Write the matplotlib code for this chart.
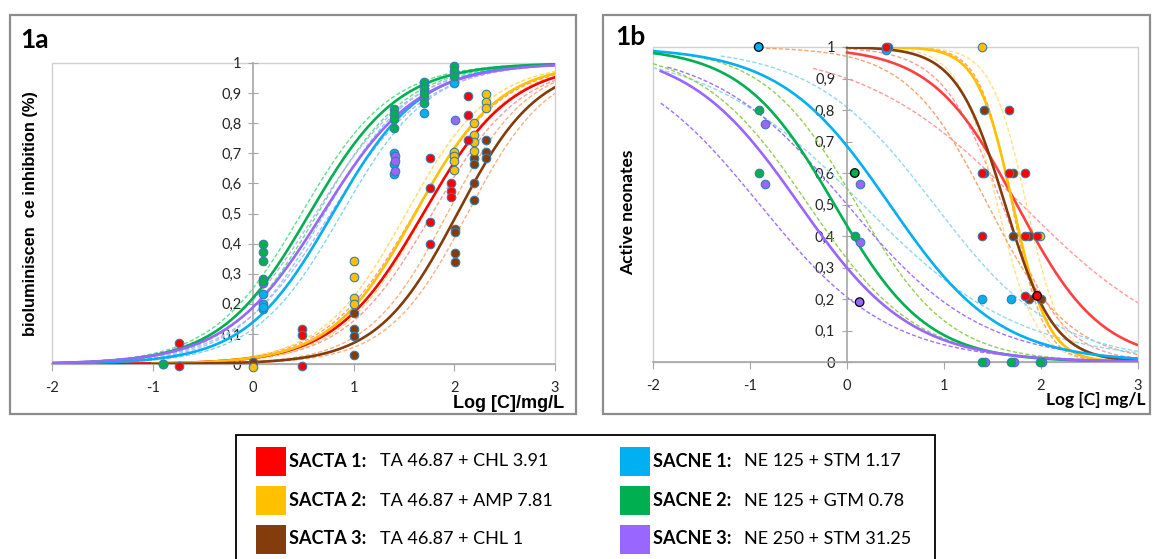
import numpy as np
import matplotlib.pyplot as plt
from matplotlib.patches import Rectangle

plt.rcParams['font.family'] = ['Lato', 'DejaVu Sans']

W, H = 1153, 559

# === series / colours ===
names = ["SACTA 1", "SACTA 2", "SACTA 3", "SACNE 1", "SACNE 2", "SACNE 3"]
recipes = ["TA 46.87 + CHL 3.91", "TA 46.87 + AMP 7.81", "TA 46.87 + CHL 1",
           "NE 125 + STM 1.17", "NE 125 + GTM 0.78", "NE 250 + STM 31.25"]
colors = ['#ff0000', '#ffc000', '#843c0c', '#00b0f0', '#00b050', '#9966ff']
dash_a = ['#ff9a9a', '#ffd966', '#f4b183', '#80d4f6', '#5ce38a', '#c4aefc']
dash_b = ['#ff9a9a', '#ffe08a', '#f4a46e', '#8fd8f5', '#92d050', '#a070ff']

# === 1a : fitted logistic curves (log EC50, slope) ===
a_mid = [1.69, 1.61, 2.03, 0.79, 0.56, 0.69]
a_k = [2.29, 2.39, 2.51, 2.30, 2.26, 2.11]
a_start = [-2, -1, -1, -2, -2, -2]
a_mid_lo = [1.60, 1.52, 1.93, 0.71, 0.48, 0.62]
a_mid_hi = [1.78, 1.70, 2.13, 0.88, 0.64, 0.77]

# 1a measured points
a_x = [
    [-0.74, -0.74, 0.49, 0.49, 0.49, 1.76, 1.76, 1.76, 1.76, 1.97, 1.97, 1.97, 2.14, 2.14, 2.14],
    [0.0, 1.0, 1.0, 1.0, 1.0, 2.0, 2.0, 2.0, 2.0, 2.19, 2.19, 2.19, 2.19, 2.31, 2.31, 2.31],
    [0.0, 1.0, 1.0, 1.0, 1.0, 2.01, 2.01, 2.01, 2.01, 2.19, 2.19, 2.19, 2.19, 2.31, 2.31, 2.31],
    [-0.9, 0.1, 0.1, 0.1, 0.1, 1.4, 1.4, 1.4, 1.7, 2.0],
    [-0.9, 0.1, 0.1, 0.1, 0.1, 0.1, 1.4, 1.4, 1.4, 1.4, 1.7, 1.7, 1.7, 1.7, 1.7, 2.0, 2.0, 2.0],
    [0.1, 1.41, 1.41, 1.41, 1.7, 2.01],
]
a_y = [
    [0.07, -0.005, 0.115, 0.095, -0.005, 0.686, 0.585, 0.472, 0.40, 0.60, 0.575, 0.555, 0.89, 0.827, 0.745],
    [-0.01, 0.342, 0.29, 0.22, 0.20, 0.705, 0.69, 0.675, 0.645, 0.80, 0.76, 0.738, 0.707, 0.898, 0.87, 0.85],
    [0.005, 0.17, 0.117, 0.093, 0.03, 0.45, 0.44, 0.37, 0.34, 0.685, 0.665, 0.60, 0.545, 0.743, 0.705, 0.685],
    [0.0, 0.232, 0.2, 0.182, 0.19, 0.70, 0.665, 0.63, 0.834, 0.932],
    [0.0, 0.40, 0.372, 0.342, 0.283, 0.276, 0.848, 0.83, 0.815, 0.785, 0.937, 0.927, 0.912, 0.897, 0.868, 0.99, 0.975, 0.958],
    [0.27, 0.69, 0.675, 0.64, 0.885, 0.81],
]

# === 1b : fitted curves ===
b_mid = [1.75, 1.71, 1.63, 0.44, -0.13, -0.49]
b_k = [-2.3, -5.5, -4.0, -1.77, -2.1, -1.74]
b_start = [0, 0, 0, -2, -2, -1.92]
b_lo_mid = [1.80, 1.55, 1.45, 0.90, 0.10, 0.00]
b_lo_k = [-1.22, -5.0, -2.4, -1.6, -2.1, -1.45]
b_lo_start = [-0.35, 0, -0.9, -1.3, -1.6, -1.85]
b_hi_mid = [1.60, 1.85, 1.70, 0.16, -0.40, -0.90]
b_hi_k = [-3.2, -5.5, -6.0, -1.23, -1.8, -1.5]
b_hi_start = [0, 0, 0, -2, -2, -1.92]

# 1b measured points
b_x = [
    [0.4, 1.39, 1.39, 1.67, 1.67, 1.84, 1.84, 1.84, 1.96],
    [1.39, 1.99],
    [0.42, 1.41, 1.41, 1.71, 1.71, 1.88, 1.88, 2.0],
    [0.4, 1.39, 1.69],
    [-0.91, -0.91, 0.08, 1.39, 1.69, 1.99],
    [-0.85, -0.85, 0.13, 0.13, 1.42, 1.72, 2.01],
]
b_y = [
    [1.0, 0.6, 0.4, 0.8, 0.6, 0.6, 0.4, 0.21, 0.4],
    [1.0, 0.4],
    [1.0, 0.8, 0.6, 0.6, 0.4, 0.4, 0.2, 0.2],
    [0.99, 0.2, 0.2],
    [0.8, 0.6, 0.4, 0.0, 0.0, 0.0],
    [0.755, 0.565, 0.565, 0.38, 0.0, 0.0, 0.0],
]
# points drawn with a black outline
b_dark_x = [-0.91, 0.08, 0.13, 1.96]
b_dark_y = [1.0, 0.6, 0.19, 0.21]
b_dark_c = [colors[3], colors[4], colors[5], colors[0]]


def logistic(x, mid, k):
    return 1.0 / (1.0 + np.exp(-k * (x - mid)))


def fx(px):
    return px / W


def fy(py):
    return 1 - py / H


def setup(ax):
    ax.set_xlim(-2, 3)
    ax.set_ylim(0, 1)
    for s in ['top', 'right']:
        ax.spines[s].set_visible(False)
    ax.spines['left'].set_position(('data', 0))
    ax.spines['left'].set_color('#a6a6a6')
    ax.spines['bottom'].set_color('#a6a6a6')
    ax.spines['left'].set_linewidth(1.2)
    ax.spines['bottom'].set_linewidth(1.2)
    ax.add_patch(Rectangle((0, 0), 1, 1, transform=ax.transAxes, fill=False,
                           ec='#d0d0d0', lw=1.0, zorder=0.5, clip_on=False))
    ax.set_xticks(range(-2, 4))
    ax.set_xticklabels([str(v) for v in range(-2, 4)])
    yt = np.round(np.arange(0, 1.01, 0.1), 1)
    ax.set_yticks(yt)
    ax.set_yticklabels(['0' if v == 0 else ('1' if v == 1 else f"{v:.1f}".replace('.', ','))
                        for v in yt])
    ax.tick_params(axis='y', direction='inout', length=7, color='#a6a6a6',
                   labelsize=10.5, pad=5, labelcolor='#262626')
    ax.tick_params(axis='x', direction='out', length=5, color='#a6a6a6',
                   labelsize=10.5, pad=7, labelcolor='#262626')
    ax.patch.set_alpha(0)


fig = plt.figure(figsize=(W / 100, H / 100), dpi=100)

# panel frames
for l, r in [(10, 576), (603, 1150)]:
    fig.add_artist(Rectangle((fx(l), fy(414)), fx(r) - fx(l), fy(15) - fy(414),
                             transform=fig.transFigure, fill=False, ec='#8c8c8c', lw=1.6))

# ---------- 1a ----------
ax1 = fig.add_axes([fx(52), fy(364), fx(555) - fx(52), fy(63) - fy(364)])
setup(ax1)
for i in range(6):
    xs = np.linspace(a_start[i], 3, 300)
    ax1.plot(xs, logistic(xs, a_mid_lo[i], a_k[i]), color=dash_a[i], lw=1.0, ls=(0, (3, 1.6)), zorder=2)
    ax1.plot(xs, logistic(xs, a_mid_hi[i], a_k[i]), color=dash_a[i], lw=1.0, ls=(0, (3, 1.6)), zorder=2)
for i in range(6):
    xs = np.linspace(a_start[i], 3, 300)
    ax1.plot(xs, logistic(xs, a_mid[i], a_k[i]), color=colors[i], lw=1.9, zorder=3)
for i in [2, 1, 0, 3, 5, 4]:
    ax1.scatter(a_x[i], a_y[i], s=38, color=colors[i], edgecolors='#3b7ca8',
                linewidths=0.8, zorder=4, clip_on=False)

fig.text(fx(20), fy(40), "1a", fontsize=19, fontweight='bold', va='center', ha='left')
fig.text(fx(31), fy(214), "bioluminiscen  ce inhibition (%)", rotation=90, fontsize=11.8,
         fontweight='bold', va='center', ha='center', family=['Liberation Sans', 'DejaVu Sans'])
fig.text(fx(564), fy(403), "Log [C]/mg/L", fontsize=13, fontweight='bold', va='center',
         ha='right', family=['Liberation Sans', 'DejaVu Sans'])

# ---------- 1b ----------
ax2 = fig.add_axes([fx(653), fy(362), fx(1138) - fx(653), fy(47) - fy(362)])
setup(ax2)
for i in range(6):
    xs = np.linspace(b_lo_start[i], 3, 300)
    ax2.plot(xs, logistic(xs, b_lo_mid[i], b_lo_k[i]), color=dash_b[i], lw=1.0, ls=(0, (3, 1.6)), zorder=2)
    xs = np.linspace(b_hi_start[i], 3, 300)
    ax2.plot(xs, logistic(xs, b_hi_mid[i], b_hi_k[i]), color=dash_b[i], lw=1.0, ls=(0, (3, 1.6)), zorder=2)
for i in range(6):
    xs = np.linspace(b_start[i], 3, 300)
    c = '#ff4040' if i == 0 else colors[i]
    ax2.plot(xs, logistic(xs, b_mid[i], b_k[i]), color=c, lw=1.9, zorder=3)
for i in [2, 1, 3, 5, 4, 0]:
    ax2.scatter(b_x[i], b_y[i], s=38, color=colors[i], edgecolors='#3b7ca8',
                linewidths=0.8, zorder=4, clip_on=False)
ax2.scatter(b_dark_x, b_dark_y, s=38, color=b_dark_c, edgecolors='black',
            linewidths=0.9, zorder=5, clip_on=False)

fig.text(fx(615), fy(37), "1b", fontsize=19, fontweight='bold', va='center', ha='left')
fig.text(fx(628), fy(212), "Active neonates", rotation=90, fontsize=12.5,
         fontweight='bold', va='center', ha='center')
fig.text(fx(1146), fy(400), "Log [C] mg/L", fontsize=12.5, fontweight='bold', va='center', ha='right')

# ---------- legend ----------
fig.add_artist(Rectangle((fx(236), fy(565)), fx(935) - fx(236), fy(435) - fy(565),
                         transform=fig.transFigure, fill=False, ec='black', lw=1.3))
rows = [461.5, 500.5, 539]
for i in range(6):
    col = i // 3
    py = rows[i % 3]
    sx = 256 if col == 0 else 620
    fig.add_artist(Rectangle((fx(sx), fy(py + 14.5)), fx(30), 29 / H,
                             transform=fig.transFigure, color=colors[i], lw=0))
    fig.text(fx(sx + 33), fy(py), names[i] + ":", fontsize=13, fontweight='bold',
             va='center', ha='left')
    fig.text(fx(sx + 124), fy(py), recipes[i], fontsize=13, va='center', ha='left')

fig.savefig("out.png", dpi=100, facecolor='white')
